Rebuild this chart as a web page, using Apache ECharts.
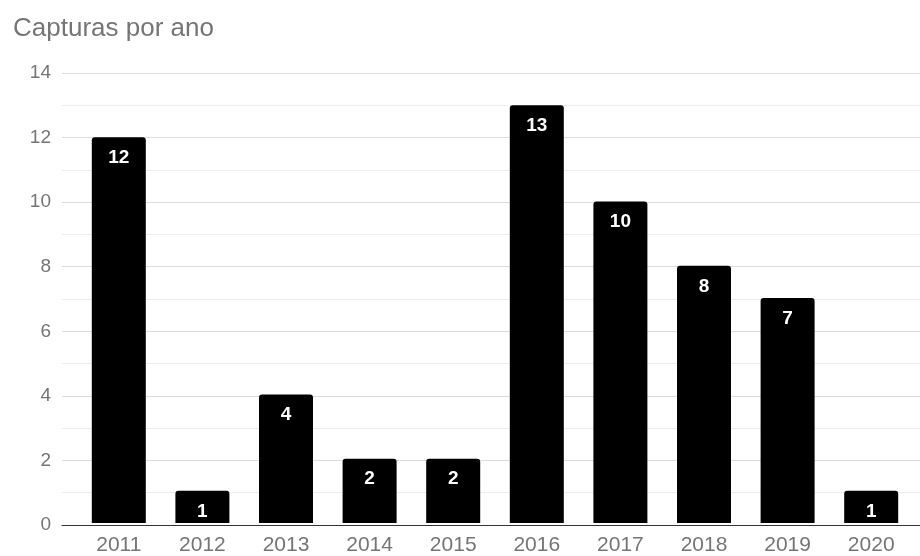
<!DOCTYPE html>
<html>
<head>
<meta charset="utf-8">
<script src="https://cdn.jsdelivr.net/npm/echarts@6/dist/echarts.min.js"></script>
<style>html,body{margin:0;padding:0;background:#fff}#c{width:920px;height:556px}</style>
</head>
<body>
<div id="c"></div>
<script>
const years = ['2011','2012','2013','2014','2015','2016','2017','2018','2019','2020'];
const capturas = [12, 1, 4, 2, 2, 13, 10, 8, 7, 1];
const titleText = 'Capturas por ano';
const yMin = 0, yMax = 14, yStep = 2;

const chart = echarts.init(document.getElementById('c'), null, {renderer: 'canvas'});
const font = 'Arial, "Liberation Sans", sans-serif';
chart.setOption({
  animation: false,
  backgroundColor: '#fff',
  title: {
    text: titleText, left: 8, top: 11,
    textStyle: {color: '#757575', fontSize: 26, fontWeight: 'normal', fontFamily: font}
  },
  grid: [
    {left: 62, right: 0, top: 73, bottom: 31},
    {left: 77, right: 7, top: 73, bottom: 31}
  ],
  xAxis: [
    {gridIndex: 0, type: 'value', min: 0, max: 1,
     axisLine: {show: true, onZero: false, lineStyle: {color: '#333', width: 1}},
     axisTick: {show: false}, axisLabel: {show: false}, splitLine: {show: false}},
    {gridIndex: 1, type: 'category', data: years,
     axisLine: {show: false}, axisTick: {show: false},
     axisLabel: {color: '#757575', fontSize: 21, fontFamily: font, margin: 12}}
  ],
  yAxis: [
    {gridIndex: 0, type: 'value', min: yMin, max: yMax, interval: yStep,
     axisLine: {show: false}, axisTick: {show: false},
     axisLabel: {color: '#757575', fontSize: 19, fontFamily: font, margin: 11},
     splitLine: {lineStyle: {color: '#dcdcdc', width: 1}},
     minorTick: {show: false, splitNumber: 2},
     minorSplitLine: {show: true, lineStyle: {color: '#ececec', width: 1}}},
    {gridIndex: 1, type: 'value', min: yMin, max: yMax, show: false}
  ],
  series: [{
    type: 'bar', xAxisIndex: 1, yAxisIndex: 1,
    data: capturas, barWidth: 54,
    itemStyle: {color: '#000', borderRadius: [3, 3, 0, 0]},
    label: {show: true, position: 'insideTop', distance: 11, color: '#fff',
            fontSize: 19, fontWeight: 'bold', fontFamily: font}
  }]
});
</script>
</body>
</html>
